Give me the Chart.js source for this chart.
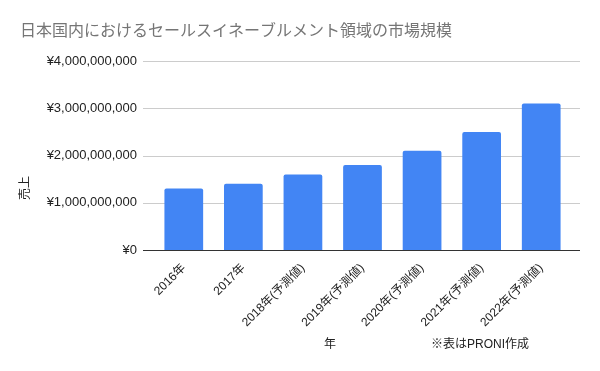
<!DOCTYPE html>
<html>
<head>
<meta charset="utf-8">
<script src="https://cdn.jsdelivr.net/npm/chart.js@4"></script>
<style>
  html, body { margin: 0; padding: 0; background: #fff; }
  #wrap { width: 600px; height: 371px; }
</style>
</head>
<body>
<div id="wrap"><canvas id="marketChart"></canvas></div>
<script>
// 日本国内におけるセールスイネーブルメント領域の市場規模
const categories = ['2016年', '2017年', '2018年(予測値)', '2019年(予測値)', '2020年(予測値)', '2021年(予測値)', '2022年(予測値)'];
const sales = [1300000000, 1400000000, 1600000000, 1800000000, 2100000000, 2500000000, 3100000000];
const yTicks = [0, 1000000000, 2000000000, 3000000000, 4000000000];

const titleText = '日本国内におけるセールスイネーブルメント領域の市場規模';
const yTitle = '売上';
const xTitle = '年';
const noteText = '※表はPRONI作成';

const baseFont = 'Arial, "Liberation Sans", "Noto Sans CJK JP", sans-serif';

// gridlines reach a bit past the bars, like in Sheets
const sheetGrid = {
    id: 'sheetGrid',
    beforeDatasetsDraw(chart) {
        const ctx = chart.ctx;
        const y = chart.scales.y;
        const area = chart.chartArea;
        ctx.save();
        ctx.lineWidth = 1;
        yTicks.forEach(v => {
            const py = Math.round(y.getPixelForValue(v)) + 0.5;
            ctx.strokeStyle = v === 0 ? '#333' : '#cccccc';
            ctx.beginPath();
            ctx.moveTo(area.left - 11, py);
            ctx.lineTo(area.right + 9, py);
            ctx.stroke();
        });
        ctx.restore();
    }
};

// titles + note drawn by hand to match the sheet layout
const extraText = {
    id: 'extraText',
    afterDraw(chart) {
        const ctx = chart.ctx;
        ctx.save();
        ctx.fillStyle = '#757575';
        ctx.font = '16px ' + baseFont;
        ctx.textBaseline = 'middle';
        ctx.textAlign = 'left';
        ctx.fillText(titleText, 20, 32);

        ctx.fillStyle = '#222';
        ctx.font = '12px ' + baseFont;
        ctx.textAlign = 'center';
        ctx.fillText(xTitle, 330, 345);
        ctx.textAlign = 'left';
        ctx.fillText(noteText, 431, 345);

        ctx.translate(26, 188);
        ctx.rotate(-Math.PI / 2);
        ctx.textAlign = 'center';
        ctx.fillText(yTitle, 0, 0);
        ctx.restore();
    }
};

new Chart(document.getElementById('marketChart'), {
    type: 'bar',
    data: {
        labels: categories,
        datasets: [{
            label: yTitle,
            data: sales,
            backgroundColor: '#4285F4',
            borderRadius: 2,
            borderSkipped: 'bottom',
            barPercentage: 0.65,
            categoryPercentage: 1.0
        }]
    },
    options: {
        responsive: true,
        maintainAspectRatio: false,
        animation: false,
        layout: { padding: { top: 61, right: 29, left: 0, bottom: 0 } },
        plugins: {
            legend: { display: false },
            tooltip: { enabled: false }
        },
        scales: {
            x: {
                grid: { display: false },
                border: { display: false },
                ticks: {
                    color: '#222',
                    font: { size: 12, family: baseFont },
                    maxRotation: 45,
                    minRotation: 45,
                    autoSkip: false
                },
                afterFit: (scale) => { scale.height = 121; }
            },
            y: {
                min: 0,
                max: 4000000000,
                afterBuildTicks: (scale) => { scale.ticks = yTicks.map(v => ({ value: v })); },
                grid: { display: false, drawTicks: false },
                border: { display: false },
                ticks: {
                    color: '#222',
                    padding: 17,
                    font: { size: 13, family: baseFont },
                    callback: (v) => '¥' + Number(v).toLocaleString('en-US')
                },
                afterFit: (scale) => { scale.width = 154; }
            }
        }
    },
    plugins: [sheetGrid, extraText]
});
</script>
</body>
</html>
